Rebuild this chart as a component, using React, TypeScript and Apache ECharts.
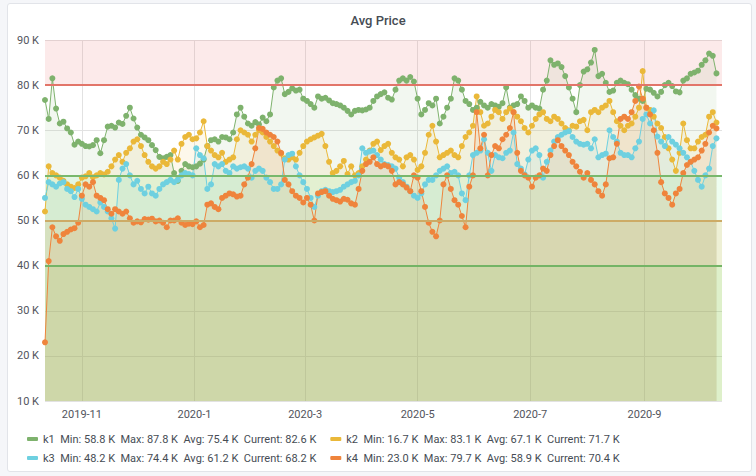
import React, { useEffect, useRef } from "react";
import * as echarts from "echarts";

// ---- data (values in thousands, one sample every 2 days starting 2019-10-12) ----
const START = [2019, 9, 12];
const STEP_DAYS = 2;
const AXIS_END = [2020, 9, 13];

const K1 = [
  76.7, 72.5, 81.5, 74.8, 71.5, 71.9, 70.4, 69.5, 66.8, 67.5, 67.0, 66.5, 66.4, 66.7, 67.8, 64.9, 67.8, 70.8, 71.0, 70.6,
  71.7, 71.4, 73.2, 75.0, 72.6, 70.6, 69.0, 68.4, 67.8, 66.7, 65.6, 64.1, 63.8, 64.1, 64.5, 60.5,
  58.8, 61.0, 62.5, 62.0, 61.8, 62.0, 62.6, 63.5, 66.5, 67.8, 68.0, 67.5, 68.5, 68.4, 68.0, 69.5, 73.5, 75.0, 73.0, 71.5,
  71.0, 71.8, 71.3, 72.8, 72.0, 73.5, 79.5, 81.0, 81.5, 78.0, 78.5, 79.3, 78.8, 79.0, 77.0, 76.5, 75.8, 75.0,
  77.5, 77.0, 77.2, 76.6, 76.0, 75.8, 75.5, 75.0, 74.3, 73.5, 74.3, 74.5, 74.4, 74.6, 75.0, 76.5, 77.5, 78.0, 78.4, 77.2,
  76.8, 79.0, 81.0, 81.5, 81.0, 81.8, 80.8, 77.0, 73.5, 74.5, 76.0, 75.5, 77.0, 71.5, 73.0, 75.0,
  77.0, 81.5, 81.0, 79.0, 76.5, 75.8, 74.5, 75.0, 76.3, 75.5, 75.0, 75.8, 75.5, 75.2, 76.0, 79.5, 75.0, 75.5, 75.8, 77.5,
  76.5, 75.0, 75.5, 75.0, 74.8, 79.0, 81.0, 85.5, 84.5, 84.8, 84.0, 82.0, 79.5, 77.0, 74.0, 80.0, 83.0,
  83.5, 85.0, 87.8, 82.0, 82.5, 80.5, 78.5, 78.8, 80.5, 81.0, 80.5, 80.2, 79.0, 77.8, 77.0, 76.5, 79.2, 79.0, 78.3, 77.5,
  78.5, 80.0, 80.5, 79.8, 78.6, 78.4, 81.0, 81.5, 82.5, 82.8, 83.2, 84.5, 85.5, 87.0, 86.5, 82.6,
];

const K2 = [
  52.0, 62.0, 60.5, 60.0, 59.5, 58.8, 58.0, 57.5, 57.2, 58.0, 59.5, 59.8, 60.5, 59.6, 60.0, 60.5, 60.2, 60.8, 62.0, 63.5,
  64.5, 63.0, 65.0, 66.0, 67.5, 68.0, 66.5, 64.5, 63.0, 62.0, 61.5, 62.0, 63.0, 62.5, 63.5, 65.5,
  63.5, 67.0, 68.5, 69.0, 68.0, 68.2, 69.5, 72.0, 66.5, 65.5, 64.5, 64.0, 65.0, 63.0, 63.5, 64.0, 68.0, 70.0, 69.5, 69.0,
  67.5, 69.0, 70.0, 69.5, 68.5, 67.5, 66.5, 65.5, 64.8, 63.8, 63.5, 64.0, 63.5, 65.0, 66.5, 67.5, 68.0, 68.4,
  68.8, 69.2, 66.5, 63.0, 60.5, 61.0, 62.0, 63.2, 60.3, 62.0, 60.0, 60.5, 62.0, 63.5, 65.5, 67.0, 67.5, 65.6, 66.5, 67.0,
  65.0, 64.0, 63.5, 62.0, 64.0, 64.5, 63.5, 61.2, 62.0, 65.0, 69.0, 71.0, 67.5, 64.0, 64.5, 65.0,
  65.5, 64.5, 64.0, 66.5, 68.5, 69.5, 71.0, 77.5, 74.0, 71.0, 71.5, 73.0, 74.5, 74.0, 72.5, 74.0, 74.8, 74.0, 73.0, 72.0,
  70.5, 69.5, 71.0, 72.5, 73.5, 74.0, 72.5, 72.0, 73.0, 72.5, 71.5, 70.5, 70.0, 71.0, 70.8, 72.0, 72.3,
  70.0, 74.0, 74.5, 74.0, 75.0, 75.5, 76.5, 74.0, 72.0, 71.0, 70.0, 71.0, 71.5, 73.0, 75.0, 83.1, 75.0, 74.5, 73.0, 71.5,
  70.5, 68.5, 66.0, 63.5, 61.0, 65.0, 71.5, 67.8, 66.0, 66.0, 67.5, 68.5, 69.0, 73.0, 74.0, 71.7,
];

const K3 = [
  55.0, 58.5, 58.0, 57.5, 58.2, 58.5, 57.0, 56.5, 55.2, 57.0, 54.8, 53.5, 53.0, 52.5, 52.0, 54.0, 53.0, 52.0, 50.5, 48.2,
  59.0, 61.5, 62.5, 60.0, 58.0, 58.8, 57.0, 56.0, 57.5, 56.0, 55.5, 57.0, 58.0, 58.5, 59.0, 58.5,
  59.0, 60.0, 60.5, 60.3, 60.0, 66.0, 64.5, 63.8, 57.0, 58.0, 62.5, 62.0, 62.5, 61.0, 60.5, 62.0, 61.5, 61.8, 62.0, 61.5,
  59.5, 61.0, 61.5, 61.0, 59.5, 58.5, 57.0, 57.0, 58.0, 63.5, 64.5, 64.8, 62.0, 60.0, 58.5, 57.0, 55.0, 53.0,
  55.5, 56.5, 56.8, 56.5, 56.3, 56.5, 56.8, 57.5, 58.0, 58.5, 58.8, 60.0, 66.0, 65.0, 65.3, 65.5, 64.5, 63.5, 62.5, 62.3,
  62.0, 61.5, 59.5, 58.5, 57.5, 56.5, 55.5, 55.0, 56.0, 58.0, 59.0, 59.0, 60.0, 61.0, 61.5, 62.0,
  60.5, 60.8, 60.0, 56.0, 54.5, 60.0, 64.5, 65.0, 65.5, 68.0, 65.0, 61.0, 64.5, 64.0, 63.8, 65.0, 65.5, 69.5, 62.5, 61.5,
  60.2, 63.5, 65.5, 66.0, 64.5, 59.5, 63.0, 65.5, 67.5, 68.5, 69.0, 69.5, 69.8, 68.5, 67.5, 67.0, 66.8,
  67.0, 66.0, 68.0, 64.0, 64.5, 64.8, 70.0, 68.5, 67.5, 65.0, 64.5, 64.5, 64.0, 66.0, 67.5, 72.5, 73.5, 71.5, 74.4, 68.6,
  67.5, 66.5, 68.5, 67.5, 66.8, 66.0, 65.0, 64.0, 63.0, 61.0, 59.0, 57.5, 60.0, 61.5, 66.5, 68.2,
];

const K4 = [
  23.0, 41.0, 48.5, 46.5, 45.5, 47.0, 47.5, 48.0, 48.3, 49.5, 55.5, 58.0, 57.5, 58.5, 55.5, 55.0, 54.5, 52.5, 51.5, 52.5,
  52.0, 51.5, 52.0, 50.5, 49.5, 49.8, 49.6, 50.3, 50.2, 50.4, 49.8, 50.0, 49.5, 48.5, 50.0, 50.0,
  50.5, 49.5, 49.0, 49.3, 49.2, 49.8, 48.5, 49.0, 53.5, 53.8, 53.0, 52.5, 55.0, 55.5, 56.0, 55.8, 55.3, 55.5, 58.0, 59.5,
  62.5, 66.0, 70.5, 70.3, 69.5, 69.0, 68.5, 67.5, 65.0, 59.0, 58.0, 56.5, 55.5, 55.0, 54.0, 55.0, 53.5, 50.0,
  56.0, 56.3, 56.5, 55.5, 54.8, 54.5, 54.2, 54.8, 54.6, 53.8, 53.5, 57.0, 61.0, 62.5, 63.0, 64.0, 62.5, 62.0, 62.3, 62.0,
  61.0, 58.0, 58.5, 58.0, 57.3, 56.5, 60.0, 59.5, 56.5, 53.0, 49.5, 47.5, 46.5, 50.0, 58.0, 60.0,
  57.0, 54.5, 53.5, 51.0, 48.5, 57.5, 60.0, 74.0, 66.0, 69.0, 60.0, 64.5, 66.5, 66.0, 68.0, 69.0, 70.5, 74.0, 65.0, 61.0,
  60.0, 59.5, 57.5, 59.5, 60.0, 61.5, 61.0, 64.5, 66.5, 67.8, 66.5, 65.5, 64.5, 63.0, 62.0, 60.8, 59.5,
  60.5, 59.0, 58.0, 56.5, 55.5, 58.0, 63.8, 64.0, 67.0, 72.5, 73.0, 72.5, 74.0, 76.5, 79.7, 77.0, 75.0, 73.5, 70.0, 65.0,
  58.5, 56.0, 55.0, 53.5, 56.0, 57.0, 60.5, 62.3, 63.0, 63.5, 64.0, 65.5, 67.0, 69.5, 71.0, 70.4,
];

const SERIES_NAMES = ["k1", "k2", "k3", "k4"];
const SERIES_VALUES = [K1, K2, K3, K4];
const LEGEND_STATS = [
  "Min: 58.8 K  Max: 87.8 K  Avg: 75.4 K  Current: 82.6 K",
  "Min: 16.7 K  Max: 83.1 K  Avg: 67.1 K  Current: 71.7 K",
  "Min: 48.2 K  Max: 74.4 K  Avg: 61.2 K  Current: 68.2 K",
  "Min: 23.0 K  Max: 79.7 K  Avg: 58.9 K  Current: 70.4 K",
];

const Y_MIN = 10;
const Y_MAX = 90;
const Y_STEP = 10;

// thresholds: [from, to] bands and lines
const BAND_CRITICAL = [80, 90];
const BAND_OK_1 = [10, 60];
const BAND_WARN = [10, 50];
const BAND_OK_2 = [10, 40];
const THRESHOLD_LINES = [80, 60, 50, 40];

// ---- styles ----
const COLORS = ["#7eb26d", "#eab839", "#6ed0e0", "#ef843c"];
const LINE_COLORS = ["#e27569", "#79b86c", "#cdab66", "#74b466"];
const OK_FILL = "rgba(11,237,50,0.07)";
const WARN_FILL = "rgba(235,138,14,0.12)";
const CRIT_FILL = "rgba(234,112,112,0.15)";
const FONT = "Roboto, 'Helvetica Neue', Arial, sans-serif";

const DAY = 86400000;

export default function App() {
  const ref = useRef<HTMLDivElement>(null);

  useEffect(() => {
    if (!ref.current) return;
    const chart = echarts.init(ref.current, undefined, { renderer: "svg" });
    const t0 = new Date(START[0], START[1], START[2]).getTime();
    const tEnd = new Date(AXIS_END[0], AXIS_END[1], AXIS_END[2]).getTime();

    const series: any[] = SERIES_VALUES.map((vals, si) => {
      const s: any = {
        name: SERIES_NAMES[si],
        type: "line",
        data: vals.map((v, i) => [t0 + i * STEP_DAYS * DAY, v]),
        symbol: "circle",
        symbolSize: 6,
        showSymbol: true,
        showAllSymbol: true,
        lineStyle: { width: 1, color: COLORS[si] },
        itemStyle: { color: COLORS[si] },
        areaStyle: { color: COLORS[si], opacity: 0.1, origin: "start" },
        emphasis: { disabled: true },
        silent: true,
      };
      if (si === 0) {
        s.markArea = {
          silent: true,
          data: [
            [{ yAxis: BAND_CRITICAL[0], itemStyle: { color: CRIT_FILL } }, { yAxis: BAND_CRITICAL[1] }],
            [{ yAxis: BAND_OK_1[0], itemStyle: { color: OK_FILL } }, { yAxis: BAND_OK_1[1] }],
            [{ yAxis: BAND_WARN[0], itemStyle: { color: WARN_FILL } }, { yAxis: BAND_WARN[1] }],
            [{ yAxis: BAND_OK_2[0], itemStyle: { color: OK_FILL } }, { yAxis: BAND_OK_2[1] }],
          ],
        };
        s.markLine = {
          silent: true,
          symbol: ["none", "none"],
          label: { show: false },
          data: THRESHOLD_LINES.map((v, i) => ({
            yAxis: v,
            lineStyle: { color: LINE_COLORS[i], width: 2, type: "solid" },
          })),
        };
      }
      return s;
    });

    const legendBase = {
      left: 27,
      padding: 0,
      itemWidth: 11,
      itemHeight: 4,
      itemGap: 14,
      icon: "roundRect",
      selectedMode: false,
      textStyle: { fontFamily: FONT, fontSize: 11, color: "#464c54", lineHeight: 14 },
      formatter: (name: string) => `${name}  ${LEGEND_STATS[SERIES_NAMES.indexOf(name)]}`,
    };

    chart.setOption({
      animation: false,
      title: {
        text: "Avg Price",
        left: "center",
        top: 9,
        textStyle: { fontFamily: FONT, fontSize: 13, fontWeight: 500, color: "#464c54" },
      },
      grid: { left: 45, right: 34, top: 40, bottom: 75 },
      legend: [
        { ...legendBase, top: 432, data: ["k1", "k2"] },
        { ...legendBase, top: 451, data: ["k3", "k4"] },
      ],
      xAxis: {
        type: "time",
        min: t0,
        max: tEnd,
        splitNumber: 6,
        axisLine: { show: false },
        axisTick: { show: false },
        axisLabel: {
          fontFamily: FONT,
          fontSize: 11,
          color: "#52545c",
          margin: 8,
          showMinLabel: false,
          showMaxLabel: false,
          formatter: (v: number) => {
            const d = new Date(v);
            return `${d.getFullYear()}-${d.getMonth() + 1}`;
          },
        },
        splitLine: { show: true, showMinLine: false, showMaxLine: false, lineStyle: { color: "#e2e2e2", width: 1 } },
      },
      yAxis: {
        type: "value",
        min: Y_MIN,
        max: Y_MAX,
        interval: Y_STEP,
        axisLine: { show: false },
        axisTick: { show: false },
        axisLabel: {
          fontFamily: FONT,
          fontSize: 11,
          color: "#52545c",
          margin: 6,
          formatter: (v: number) => `${v} K`,
        },
        splitLine: { show: true, lineStyle: { color: "#e2e2e2", width: 1 } },
      },
      series,
    });

    return () => chart.dispose();
  }, []);

  return (
    <div style={{ position: "fixed", left: 0, top: 0, width: 756, height: 476, background: "#f5f6f9" }}>
      <div
        style={{
          position: "absolute",
          left: 7,
          top: 3,
          width: 743,
          height: 467,
          background: "#ffffff",
          border: "1px solid #e2e4e9",
          borderRadius: 3,
        }}
      />
      <div ref={ref} style={{ position: "absolute", left: 0, top: 0, width: 756, height: 476 }} />
    </div>
  );
}
